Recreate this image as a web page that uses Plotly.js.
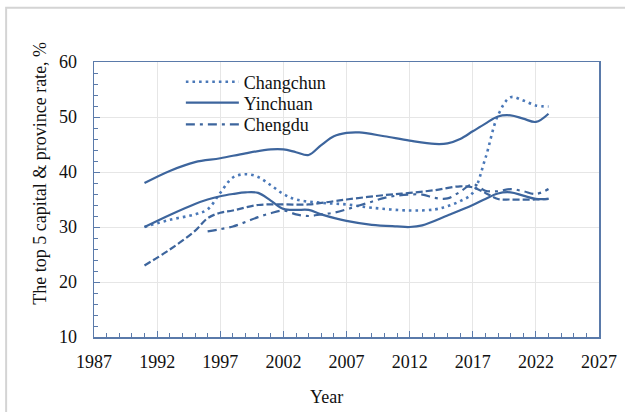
<!DOCTYPE html>
<html>
<head>
<meta charset="utf-8">
<script src="https://cdn.plot.ly/plotly-3.0.1.min.js"></script>
<style>html,body{margin:0;padding:0;background:#fff;}#chart{width:625px;height:412px;}</style>
</head>
<body>
<div id="chart"></div>
<script>
// Data
var changchunYears = [1991,1993,1995,1996,1997,1998,1999,2000,2001,2002,2003,2005,2007,2009,2012,2014,2015,2016,2017,2018,2019,2020,2021,2022,2023];
var changchunRate  = [30,31.3,32.3,33.2,36.2,39,39.6,39.1,37.6,36,35,34.4,34.1,33.5,33,33.2,33.8,34.7,36.2,42.5,50.3,53.6,53,52.1,51.9];

var yinchuanYears = [1991,1993,1995,1997,1999,2001,2002,2003,2004,2005,2006,2007,2008,2010,2012,2014,2015,2016,2017,2018,2019,2020,2021,2022,2023];
var yinchuanRate  = [38,40.2,41.8,42.5,43.4,44.1,44.1,43.6,43.1,44.9,46.5,47.1,47.2,46.5,45.7,45.1,45.2,46,47.4,48.8,50.1,50.3,49.7,49.1,50.6];

var chengduYears = [1996,1997,1998,1999,2000,2001,2002,2003,2004,2005,2006,2007,2008,2009,2010,2011,2012,2013,2014,2015,2016,2017,2018,2019,2020,2021,2022,2023];
var chengduRate  = [29.2,29.6,30.1,30.9,31.8,32.5,33,32.3,32,32.3,32.6,33.2,33.9,34.6,35.3,35.7,35.9,35.9,35.3,35.2,36.4,37.8,36.6,36.5,36.9,36.5,36,36.9];

var solid2Years = [1991,1993,1995,1996,1997,1998,1999,2000,2001,2002,2003,2004,2005,2007,2009,2011,2012,2013,2015,2017,2018,2019,2020,2021,2022,2023];
var solid2Rate  = [30,32.2,34.2,35,35.6,36,36.3,36.2,34.8,33.3,33.1,33.1,32.3,31.1,30.4,30.1,30,30.3,32.1,34,35.1,36.1,36.3,35.7,35.1,35.1];

var dashedYears = [1991,1993,1995,1996,1997,1998,2000,2002,2004,2006,2007,2010,2012,2014,2016,2017,2018,2019,2020,2022,2023];
var dashedRate  = [23,25.9,29.3,31.6,32.6,33,34,34.1,34.1,34.7,35,35.8,36.2,36.7,37.4,37.2,36.2,35.1,35,35,35.1];

var xTickVals = [1987,1992,1997,2002,2007,2012,2017,2022,2027];
var yTickVals = [10,20,30,40,50,60];

var lineColor = '#3d659d';
var dotColor = '#4a78b8';
var axisColor = '#5a7aaa';
var font = 'Liberation Serif';

var traces = [
  {x: changchunYears, y: changchunRate, name: 'Changchun', mode: 'lines', legend: 'legend',
   line: {color: dotColor, width: 2.6, dash: '2.6px,4px', shape: 'spline', smoothing: 1}},
  {x: yinchuanYears, y: yinchuanRate, name: 'Yinchuan', mode: 'lines', legend: 'legend2',
   line: {color: lineColor, width: 2.2, shape: 'spline', smoothing: 1}},
  {x: chengduYears, y: chengduRate, name: 'Chengdu', mode: 'lines', legend: 'legend3',
   line: {color: lineColor, width: 2.2, dash: '9px,5px,3px,5px', shape: 'spline', smoothing: 1}},
  {x: solid2Years, y: solid2Rate, name: 'Yinchuan (2)', mode: 'lines', showlegend: false,
   line: {color: lineColor, width: 2.2, shape: 'spline', smoothing: 1}},
  {x: dashedYears, y: dashedRate, name: 'Chengdu (2)', mode: 'lines', showlegend: false,
   line: {color: lineColor, width: 2.2, dash: '7px,3px', shape: 'spline', smoothing: 1}}
];

function legendAt(yFrac) {
  return {x: 0.172, y: yFrac, xanchor: 'left', yanchor: 'middle', bgcolor: 'rgba(0,0,0,0)',
          font: {family: font, size: 18, color: '#111'}, itemwidth: 53, borderwidth: 0};
}

var layout = {
  width: 625, height: 412,
  margin: {l: 94, r: 26, t: 62, b: 75, pad: 0},
  paper_bgcolor: '#ffffff', plot_bgcolor: '#ffffff',
  font: {family: font, size: 18, color: '#000'},
  showlegend: true,
  legend: legendAt(0.927),
  legend2: legendAt(0.851),
  legend3: legendAt(0.772),
  xaxis: {
    range: [1987, 2027], tickvals: xTickVals, ticktext: xTickVals.map(String),
    showgrid: true, gridcolor: '#e6e6e6', gridwidth: 1,
    showline: true, linecolor: axisColor, linewidth: 1.5, mirror: true,
    ticks: 'inside', ticklen: 6, tickcolor: axisColor, tickwidth: 1,
    minor: {dtick: 1, tick0: 1987, ticks: 'inside', ticklen: 4, tickcolor: axisColor, showgrid: false},
    zeroline: false, ticklabelstandoff: 8,
    tickfont: {family: font, size: 18, color: '#111'}
  },
  yaxis: {
    range: [10, 60], tickvals: yTickVals, ticktext: yTickVals.map(String),
    showgrid: true, gridcolor: '#e6e6e6', gridwidth: 1,
    showline: true, linecolor: axisColor, linewidth: 1.5, mirror: true,
    ticks: 'inside', ticklen: 6, tickcolor: axisColor, tickwidth: 1,
    minor: {dtick: 2, tick0: 10, ticks: 'inside', ticklen: 4, tickcolor: axisColor, showgrid: false},
    zeroline: false, ticklabelstandoff: 12,
    tickfont: {family: font, size: 18, color: '#111'}
  },
  annotations: [
    {text: 'The top 5 capital &amp; province rate, %', textangle: -90, xref: 'paper', yref: 'paper',
     x: -0.107, y: 0.597, xanchor: 'center', yanchor: 'middle', showarrow: false,
     font: {family: font, size: 18, color: '#111'}},
    {text: 'Year', xref: 'paper', yref: 'paper', x: 0.461, y: -0.217, xanchor: 'center', yanchor: 'middle',
     showarrow: false, font: {family: font, size: 18, color: '#111'}}
  ],
  shapes: [
    {type: 'rect', xref: 'paper', yref: 'paper', x0: -0.174, x1: 1.2, y0: -0.4, y1: 1.197,
     line: {color: '#d4d4d4', width: 2}, fillcolor: 'rgba(0,0,0,0)', layer: 'below'}
  ]
};

Plotly.newPlot('chart', traces, layout, {staticPlot: true, displayModeBar: false});
</script>
</body>
</html>
